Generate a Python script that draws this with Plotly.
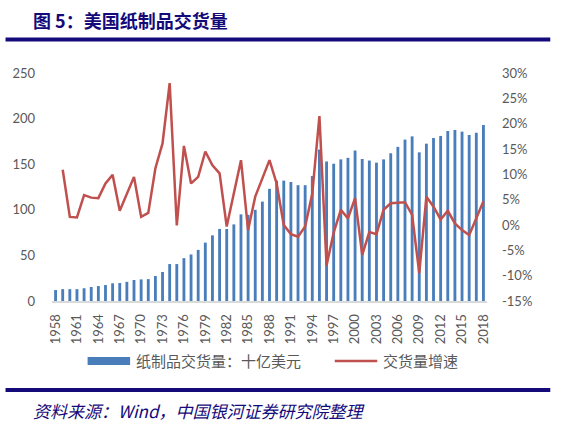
import plotly.graph_objects as go

# 纸制品交货量（十亿美元），1958-2018
years = [str(y) for y in range(1958, 2019)]
shipments = [
    12, 13, 13, 13, 14, 15.4, 16.4, 17.5, 19.4, 19.7,
    21, 23, 23.7, 24, 27.4, 31.8, 40.5, 40.5, 47, 51,
    56, 64, 72, 79, 79, 84, 95, 94.5, 100, 109,
    123, 132, 132, 130.5, 127, 127, 137, 166, 153, 150.5,
    155.3, 157, 165, 155.7, 154, 151.7, 155.3, 162, 169, 177,
    180.5, 163, 172.5, 178.7, 181, 186.4, 187.5, 185.7, 182, 184.5,
    193,
]

# 交货量增速（%），1959-2018
growth_years = years[1:]
growth = [
    10.9, 1.6, 1.5, 5.9, 5.4, 5.3, 8.2, 9.9, 2.8, 6.2,
    9.5, 1.6, 2.4, 11.2, 16.1, 28.0, -0.1, 15.6, 8.2, 9.5,
    14.5, 11.8, 10.2, -0.3, 6.2, 12.8, -1.0, 5.6, 9.2, 12.8,
    8.2, 0.0, -1.8, -2.3, -0.3, 6.2, 21.5, -8.0, -1.5, 3.0,
    1.3, 5.3, -5.9, -1.4, -1.8, 3.0, 4.3, 4.4, 4.5, 2.0,
    -9.5, 5.6, 3.6, 1.1, 2.8, 0.3, -1.0, -2.0, 1.3, 4.7,
]

x_ticks = years[::3]
left_ticks = [0, 50, 100, 150, 200, 250]
right_ticks = [-15, -10, -5, 0, 5, 10, 15, 20, 25, 30]

BLUE = "#4A7EBB"
RED = "#C0504D"
NAVY = "#140a7a"
GRAY = "#595959"
FONT = "Lato, Noto Sans CJK SC, sans-serif"

W, H = 564, 424
ML, MR, MT, MB = 47, 77, 73, 123
PW = W - ML - MR
PH = H - MT - MB


def px(x):
    return (x - ML) / PW


def py(y):
    return (H - MB - y) / PH


fig = go.Figure()

fig.add_trace(
    go.Bar(
        x=years,
        y=shipments,
        name="纸制品交货量：十亿美元",
        marker=dict(color=BLUE, line=dict(width=0)),
        showlegend=False,
    )
)

fig.add_trace(
    go.Scatter(
        x=growth_years,
        y=growth,
        name="交货量增速",
        mode="lines",
        line=dict(color=RED, width=2.5),
        yaxis="y2",
        showlegend=False,
    )
)

fig.update_layout(
    width=W,
    height=H,
    margin=dict(l=ML, r=MR, t=MT, b=MB),
    paper_bgcolor="white",
    plot_bgcolor="white",
    bargap=0.6,
    font=dict(family=FONT, size=13, color=GRAY),
    xaxis=dict(
        type="category",
        range=[-0.5, len(years) - 0.5],
        tickvals=x_ticks,
        ticktext=x_ticks,
        tickangle=-90,
        showgrid=False,
        showline=True,
        linecolor="#d9d9d9",
        linewidth=2,
        ticks="",
        ticklabelstandoff=6,
    ),
    yaxis=dict(
        range=[0, 250],
        tickvals=left_ticks,
        showgrid=False,
        zeroline=False,
        showline=False,
        ticks="",
        ticklabelstandoff=16,
    ),
    yaxis2=dict(
        range=[-15, 30],
        overlaying="y",
        side="right",
        tickvals=right_ticks,
        ticktext=[f"{v}%" for v in right_ticks],
        showgrid=False,
        zeroline=False,
        showline=False,
        ticks="",
        ticklabelstandoff=14,
    ),
    showlegend=False,
)

# 标题与分隔线
fig.add_annotation(
    text="<b>图 5：美国纸制品交货量</b>",
    xref="paper", yref="paper",
    x=px(26), y=py(20),
    xanchor="left", yanchor="middle",
    showarrow=False,
    font=dict(family="Noto Sans CJK SC", size=18, color=NAVY),
)
for y_line in (39.5, 390):
    fig.add_shape(
        type="line",
        xref="paper", yref="paper",
        x0=px(0), x1=px(551), y0=py(y_line), y1=py(y_line),
        line=dict(color=NAVY, width=4),
    )

# 图例
fig.add_shape(
    type="rect",
    xref="paper", yref="paper",
    x0=px(83), x1=px(126), y0=py(365), y1=py(357),
    fillcolor=BLUE, line=dict(width=0),
)
fig.add_annotation(
    text="纸制品交货量：十亿美元",
    xref="paper", yref="paper",
    x=px(130), y=py(361),
    xanchor="left", yanchor="middle",
    showarrow=False,
    font=dict(family=FONT, size=15, color=GRAY),
)
fig.add_shape(
    type="line",
    xref="paper", yref="paper",
    x0=px(333), x1=px(376), y0=py(361), y1=py(361),
    line=dict(color=RED, width=2.5),
)
fig.add_annotation(
    text="交货量增速",
    xref="paper", yref="paper",
    x=px(380), y=py(361),
    xanchor="left", yanchor="middle",
    showarrow=False,
    font=dict(family=FONT, size=15, color=GRAY),
)

# 资料来源
fig.add_annotation(
    text="资料来源：Wind，中国银河证券研究院整理",
    xref="paper", yref="paper",
    x=px(26), y=py(410),
    xanchor="left", yanchor="middle",
    showarrow=False,
    font=dict(family="Noto Sans CJK SC", size=17, color=NAVY, style="italic"),
)

fig.write_html(
    "out.html",
    config={"displayModeBar": False},
    post_script="document.body.style.margin='0';document.body.style.overflow='hidden';",
)
